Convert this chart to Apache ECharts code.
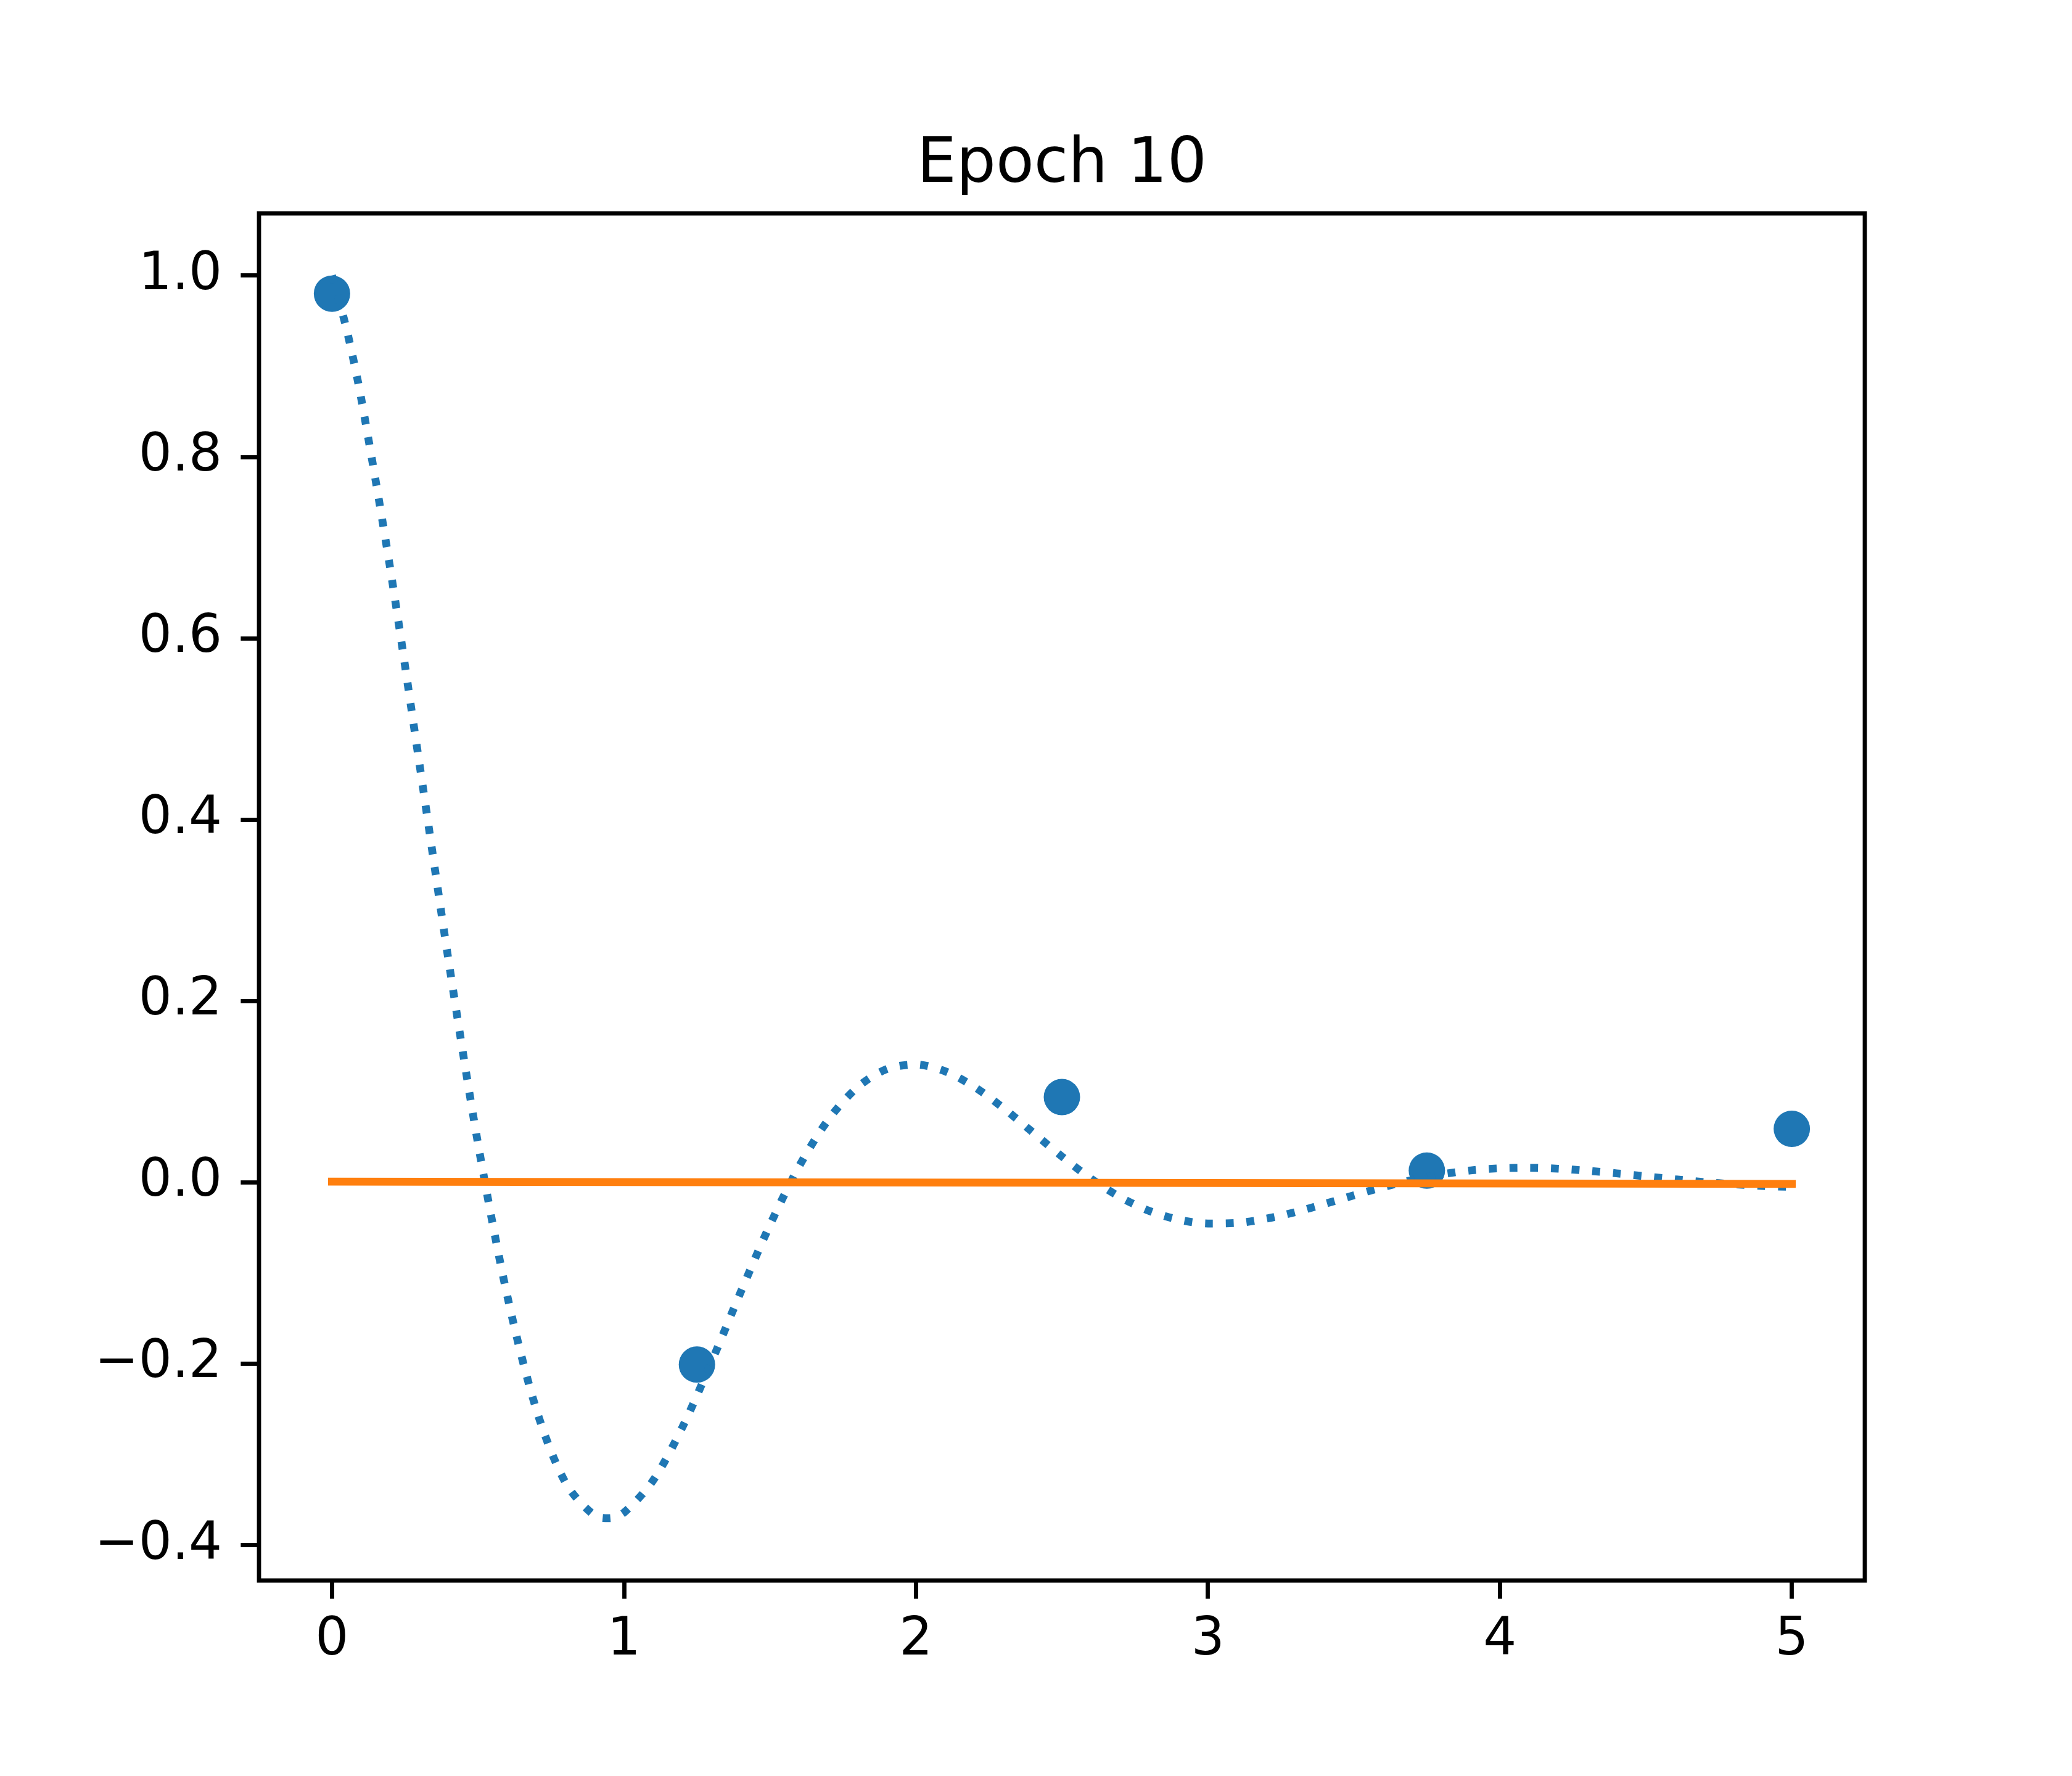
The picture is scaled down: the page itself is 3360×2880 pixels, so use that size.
<!DOCTYPE html>
<html>
<head>
<meta charset="utf-8">
<script src="https://cdn.jsdelivr.net/npm/echarts@6/dist/echarts.min.js"></script>
<style>
html,body{margin:0;padding:0;background:#fff;}
#chart{width:3360px;height:2880px;}
</style>
</head>
<body>
<div id="chart"></div>
<script>
// Title
const chartTitle = 'Epoch 10';

// Dotted reference curve
const curveX = [0,0.05,0.1,0.2,0.3,0.4,0.5,0.6,0.7,0.8,0.9,0.95,1.0,1.1,1.2,1.3,1.4,1.5,1.6,1.7,1.8,1.9,2.0,2.1,2.2,2.3,2.4,2.5,2.6,2.7,2.8,2.9,3.0,3.1,3.2,3.3,3.4,3.5,3.6,3.7,3.8,3.9,4.0,4.1,4.2,4.3,4.4,4.5,4.6,4.7,4.8,4.9,5.0];
const curveY = [1.0,0.9406,0.8644,0.6757,0.4605,0.2429,0.0429,-0.1247,-0.2507,-0.3313,-0.3676,-0.3704,-0.3642,-0.3287,-0.2701,-0.1978,-0.1209,-0.0470,0.0177,0.0691,0.1049,0.1249,0.1299,0.1224,0.1053,0.0818,0.0552,0.0285,0.0040,-0.0164,-0.0316,-0.0412,-0.0454,-0.0448,-0.0401,-0.0328,-0.0238,-0.0144,-0.0053,0.0026,0.0088,0.0131,0.0155,0.0160,0.0150,0.0128,0.0099,0.0066,0.0033,0.0003,-0.0021,-0.0040,-0.0051];

// Sample points (scatter)
const pointX = [0, 1.25, 2.5, 3.75, 5];
const pointY = [0.980, -0.201, 0.094, 0.013, 0.059];

// Model prediction (orange line)
const fitX = [0, 5];
const fitY = [0.0008, -0.0018];

// Axis ticks
const xTicks = [0, 1, 2, 3, 4, 5];
const xTickLabels = ['0', '1', '2', '3', '4', '5'];
const yTicks = [-0.4, -0.2, 0, 0.2, 0.4, 0.6, 0.8, 1.0];
const yTickLabels = ['\u22120.4', '\u22120.2', '0.0', '0.2', '0.4', '0.6', '0.8', '1.0'];

const xRange = [-0.25, 5.25];
const yRange = [-0.4391, 1.0685];

function pair(xs, ys) { return xs.map((x, i) => [x, ys[i]]); }
function labelFor(ticks, labels) {
  return function (v) {
    for (let i = 0; i < ticks.length; i++) {
      if (Math.abs(ticks[i] - v) < 1e-6) return labels[i];
    }
    return '';
  };
}

const FONT = 'DejaVu Sans';
const LW = 12.7;

const chart = echarts.init(document.getElementById('chart'), null, {renderer: 'canvas'});
chart.setOption({
  animation: false,
  backgroundColor: '#ffffff',
  title: {
    text: chartTitle,
    left: 1722,
    top: 218,
    padding: 0,
    textAlign: 'center',
    textStyle: {fontFamily: FONT, fontSize: 101, fontWeight: 'normal', color: '#000'}
  },
  grid: {
    left: 420, right: 336, top: 346, bottom: 317,
    show: true, borderColor: '#000', borderWidth: 6.8, backgroundColor: 'transparent',
    containLabel: false
  },
  xAxis: {
    type: 'value',
    position: 'bottom',
    min: xRange[0], max: xRange[1],
    splitLine: {show: false},
    axisLine: {show: false, onZero: false},
    axisTick: {show: true, inside: false, length: 29.6, customValues: xTicks,
      lineStyle: {color: '#000', width: 6.8}},
    axisLabel: {show: true, customValues: xTicks, margin: 55, hideOverlap: false,
      fontFamily: FONT, fontSize: 85, color: '#000',
      formatter: labelFor(xTicks, xTickLabels)}
  },
  yAxis: {
    type: 'value',
    position: 'left',
    min: yRange[0], max: yRange[1],
    splitLine: {show: false},
    axisLine: {show: false, onZero: false},
    axisTick: {show: true, inside: false, length: 29.6, customValues: yTicks,
      lineStyle: {color: '#000', width: 6.8}},
    axisLabel: {show: true, customValues: yTicks, margin: 60, hideOverlap: false,
      padding: [6, 0, 0, 0],
      fontFamily: FONT, fontSize: 85, color: '#000',
      formatter: labelFor(yTicks, yTickLabels)}
  },
  series: [
    {
      type: 'line',
      data: pair(curveX, curveY),
      showSymbol: false,
      smooth: 0.3,
      lineStyle: {color: '#1f77b4', width: LW, type: [12.7, 20.9], cap: 'butt'},
      silent: true
    },
    {
      type: 'scatter',
      data: pair(pointX, pointY),
      symbol: 'circle',
      symbolSize: 59,
      itemStyle: {color: '#1f77b4', opacity: 1},
      silent: true
    },
    {
      type: 'line',
      data: pair(fitX, fitY),
      showSymbol: false,
      lineStyle: {color: '#ff7f0e', width: LW, cap: 'square'},
      silent: true
    }
  ]
});
</script>
</body>
</html>
